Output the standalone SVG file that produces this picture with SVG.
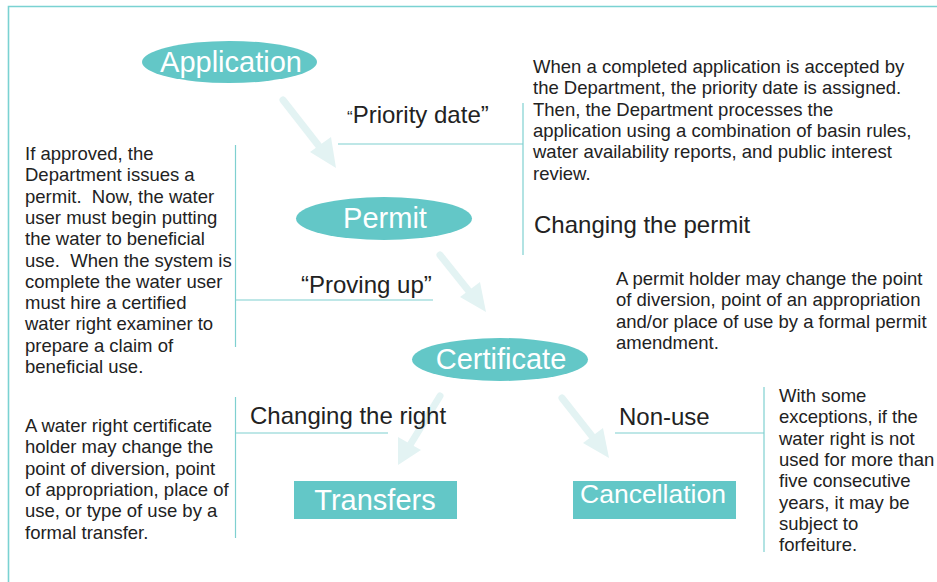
<svg xmlns="http://www.w3.org/2000/svg" width="937" height="582" viewBox="0 0 937 582">
<style>
.node{fill:#63c7c7}
.nt{font-family:"Liberation Sans",Arial,sans-serif;fill:#ffffff;text-anchor:middle}
.lab{font-family:"Liberation Sans",Arial,sans-serif;font-size:24px;fill:#222222}
.body{font-family:"Liberation Sans",Arial,sans-serif;font-size:18.5px;fill:#222222}
.ln{stroke:#7fd0d0;stroke-width:1.2;fill:none}
.arr{stroke:#e3f3f3;stroke-width:7;fill:none;stroke-linecap:round}
.ah{fill:#e3f3f3}
</style>
<rect width="937" height="582" fill="#ffffff"/>
<path d="M8.5 582 V6.5 H937" stroke="#7ad2d2" stroke-width="1.6" fill="none"/>
<g id="connectors">
<line class="arr" x1="283" y1="100" x2="322" y2="150"/>
<polygon class="ah" points="336,168 310,152 331,137"/>
<line class="arr" x1="440" y1="255" x2="472" y2="295"/>
<polygon class="ah" points="486,312 460,297 480,282"/>
<line class="arr" x1="440" y1="396" x2="410" y2="445"/>
<polygon class="ah" points="398,465 398,437 421,450"/>
<line class="arr" x1="562" y1="398" x2="595" y2="440"/>
<polygon class="ah" points="609,458 583,443 603,428"/>
<line class="ln" x1="338" y1="144" x2="523" y2="144"/>
<line class="ln" x1="523" y1="103" x2="523" y2="255"/>
<line class="ln" x1="235.5" y1="145" x2="235.5" y2="347"/>
<line class="ln" x1="235.5" y1="300" x2="433" y2="300"/>
<line class="ln" x1="235.5" y1="397" x2="235.5" y2="538"/>
<line class="ln" x1="235.5" y1="433" x2="388" y2="433"/>
<line class="ln" x1="615" y1="433" x2="764" y2="433"/>
<line class="ln" x1="764" y1="387" x2="764" y2="552"/>
</g>
<g id="application">
<ellipse class="node" cx="229.5" cy="62" rx="87.5" ry="21"/>
<text class="nt" x="231" y="72" font-size="29">Application</text>
</g>
<g id="permit">
<ellipse class="node" cx="384" cy="218.5" rx="88" ry="21.5"/>
<text class="nt" x="385" y="228" font-size="29">Permit</text>
</g>
<g id="certificate">
<ellipse class="node" cx="500" cy="359.5" rx="88" ry="21.5"/>
<text class="nt" x="501" y="369" font-size="29">Certificate</text>
</g>
<g id="transfers">
<rect class="node" x="294" y="481" width="163" height="38"/>
<text class="nt" x="375" y="510" font-size="29">Transfers</text>
</g>
<g id="cancellation">
<rect class="node" x="573" y="481" width="163" height="38"/>
<text class="nt" x="653" y="503" font-size="26.5">Cancellation</text>
</g>
<g id="labels">
<text class="lab" x="347" y="123"><tspan font-size="17">“</tspan>Priority date”</text>
<text class="lab" x="301" y="293">“Proving up”</text>
<text class="lab" x="534" y="233">Changing the permit</text>
<text class="lab" x="250" y="424">Changing the right</text>
<text class="lab" x="619" y="425">Non-use</text>
</g>
<g id="notes">
<text class="body">
<tspan x="25" y="160">If approved, the</tspan>
<tspan x="25" y="181.3">Department issues a</tspan>
<tspan x="25" y="202.6">permit.&#160; Now, the water</tspan>
<tspan x="25" y="223.9">user must begin putting</tspan>
<tspan x="25" y="245.2">the water to beneficial</tspan>
<tspan x="25" y="266.5">use.&#160; When the system is</tspan>
<tspan x="25" y="287.8">complete the water user</tspan>
<tspan x="25" y="309.1">must hire a certified</tspan>
<tspan x="25" y="330.4">water right examiner to</tspan>
<tspan x="25" y="351.7">prepare a claim of</tspan>
<tspan x="25" y="373">beneficial use.</tspan>
</text>
<text class="body">
<tspan x="533" y="73">When a completed application is accepted by</tspan>
<tspan x="533" y="94.3">the Department, the priority date is assigned.</tspan>
<tspan x="533" y="115.6">Then, the Department processes the</tspan>
<tspan x="533" y="136.9">application using a combination of basin rules,</tspan>
<tspan x="533" y="158.2">water availability reports, and public interest</tspan>
<tspan x="533" y="179.5">review.</tspan>
</text>
<text class="body">
<tspan x="616" y="285">A permit holder may change the point</tspan>
<tspan x="616" y="306.3">of diversion, point of an appropriation</tspan>
<tspan x="616" y="327.6">and/or place of use by a formal permit</tspan>
<tspan x="616" y="348.9">amendment.</tspan>
</text>
<text class="body">
<tspan x="25" y="432">A water right certificate</tspan>
<tspan x="25" y="453.3">holder may change the</tspan>
<tspan x="25" y="474.6">point of diversion, point</tspan>
<tspan x="25" y="495.9">of appropriation, place of</tspan>
<tspan x="25" y="517.2">use, or type of use by a</tspan>
<tspan x="25" y="538.5">formal transfer.</tspan>
</text>
<text class="body">
<tspan x="779" y="402">With some</tspan>
<tspan x="779" y="423.3">exceptions, if the</tspan>
<tspan x="779" y="444.6">water right is not</tspan>
<tspan x="779" y="465.9">used for more than</tspan>
<tspan x="779" y="487.2">five consecutive</tspan>
<tspan x="779" y="508.5">years, it may be</tspan>
<tspan x="779" y="529.8">subject to</tspan>
<tspan x="779" y="551.1">forfeiture.</tspan>
</text>
</g>
</svg>
